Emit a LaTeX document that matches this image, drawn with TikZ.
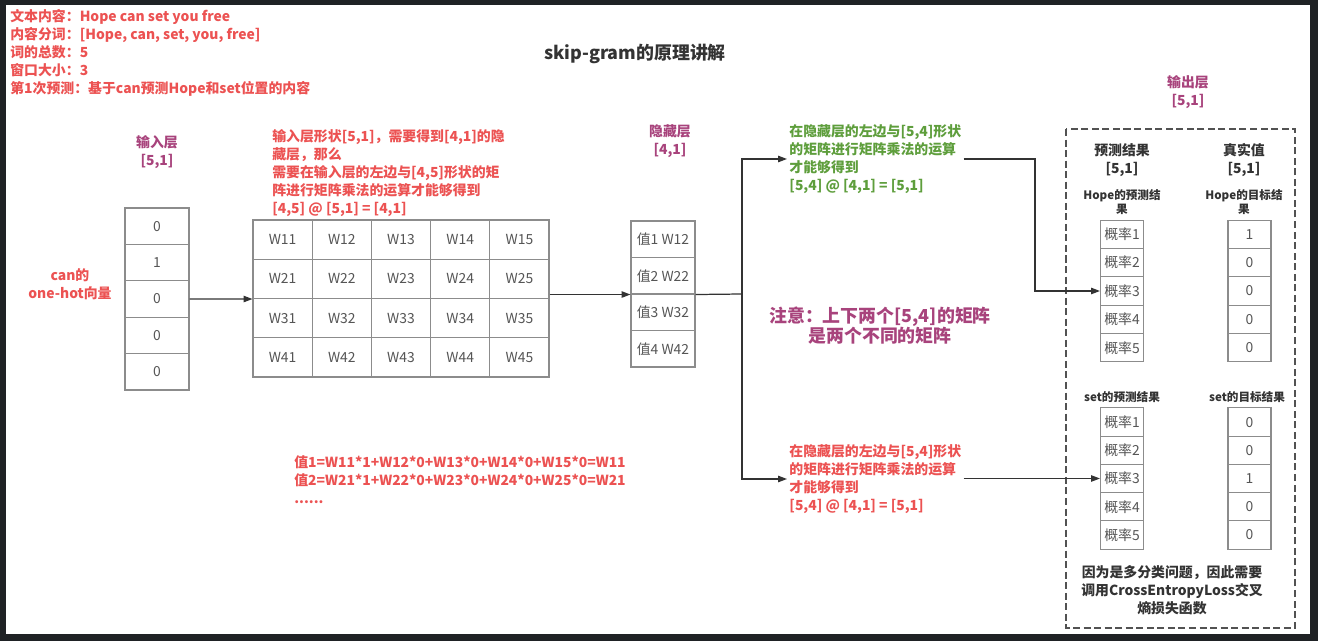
\documentclass[tikz,border=0pt]{standalone}
\usepackage{fontspec}
\setmainfont{Noto Sans CJK SC}
\usetikzlibrary{arrows.meta}

\definecolor{redtxt}{HTML}{EC5252}
\definecolor{purtxt}{HTML}{A8437C}
\definecolor{grntxt}{HTML}{5E9E3C}
\definecolor{darktxt}{HTML}{333333}
\definecolor{cellline}{HTML}{8C8C8C}
\definecolor{celltxt}{HTML}{555555}
\definecolor{framebg}{HTML}{1F2225}

\newcommand{\txtA}{\fontsize{7.9pt}{10.2pt}\selectfont}
\newcommand{\txtS}{\fontsize{6.6pt}{8pt}\selectfont}
\newcommand{\txtB}{\fontsize{10.2pt}{11.4pt}\selectfont}

\tikzset{
  cell/.style={draw=cellline, line width=0.6pt, inner sep=0pt, text=celltxt, font=\txtA},
  incell/.style={cell, minimum width=1.28cm, minimum height=0.728cm},
  wcell/.style={cell, minimum width=1.184cm, minimum height=0.785cm},
  hcell/.style={cell, minimum width=1.28cm, minimum height=0.73cm},
  pcell/.style={cell, minimum width=0.86cm, minimum height=0.566cm},
  rednote/.style={text=redtxt, font=\txtA\bfseries, align=left, inner sep=1.2pt},
  grnnote/.style={text=grntxt, font=\txtA\bfseries, align=left, inner sep=1.2pt},
  layer/.style={text=purtxt, font=\txtA\bfseries, align=center, inner sep=0pt},
  head/.style={text=darktxt, font=\txtA\bfseries, align=center, inner sep=0pt},
  small/.style={text=darktxt, font=\txtS\bfseries, align=center, inner sep=0pt},
  arr/.style={-{Triangle[length=5pt,width=3.6pt]}, draw=darktxt, line width=0.7pt},
  link/.style={draw=darktxt, line width=0.7pt}
}

\begin{document}
\begin{tikzpicture}[x=0.02cm, y=-0.02cm]
  % fundo
  \useasboundingbox (0,0) rectangle (1318,641);
  \fill[framebg] (0,0) rectangle (1318,641);
  \fill[white] (6,5) rectangle (1310,634);

  % textos do topo
  \node[rednote, anchor=west, inner sep=0pt] (info) at (10,53) {文本内容：Hope can set you free\\
    内容分词：[Hope, can, set, you, free]\\
    词的总数：5\\
    窗口大小：3\\
    第1次预测：基于can预测Hope和set位置的内容};
  \node[text=darktxt, font=\fontsize{10.2pt}{12pt}\selectfont\bfseries] (title) at (635,54) {skip-gram的原理讲解};

  % camada de entrada
  \node[layer] (inlbl) at (157,152) {输入层\\{[5,1]}};
  \node[rednote, align=center] (onehot) at (70,284) {can的\\one-hot向量};
  \foreach \v [count=\i] in {0,1,0,0,0}
    \node[incell] (in-\i) at (157,{208+36.4*(\i-0.5)}) {\v};

  % matriz de pesos [4,5]
  \node[rednote, anchor=west, inner sep=0pt] (wnote) at (272,173) {输入层形状[5,1]，需要得到[4,1]的隐\\
    藏层，那么\\
    需要在输入层的左边与[4,5]形状的矩\\
    阵进行矩阵乘法的运算才能够得到\\
    {[4,5] @ [5,1] = [4,1]}};
  \foreach \i in {1,...,4}
    \foreach \j in {1,...,5}
      \node[wcell] (m-\i-\j) at ({253+59.2*(\j-0.5)},{220+39.25*(\i-0.5)}) {W\i\j};
  \draw[arr] (in-3.east) -- (m-2-1.south west);

  \node[rednote, anchor=west, inner sep=0pt] (calc) at (294,480) {值1=W11*1+W12*0+W13*0+W14*0+W15*0=W11\\
    值2=W21*1+W22*0+W23*0+W24*0+W25*0=W21\\
    ......};

  % camada oculta
  \node[layer] (hlbl) at (670,141) {隐藏层\\{[4,1]}};
  \foreach \i in {1,...,4}
    \node[hcell] (h-\i) at (663,{221+36.5*(\i-0.5)}) {值\i\ W\i2};
  \draw[arr] (m-2-5.south east |- h-2.south west) -- (h-2.south west);

  % ramos para as duas saidas
  \coordinate (split) at (742,294);
  \coordinate (turn) at (1035,159);
  \draw[link] (h-2.south east) -- (split);
  \node[grnnote, anchor=west] (gtext) at (787,159) {在隐藏层的左边与[5,4]形状\\
    的矩阵进行矩阵乘法的运算\\
    才能够得到\\
    {[5,4] @ [4,1] = [5,1]}};
  \node[rednote, anchor=west] (rtext) at (787,479) {在隐藏层的左边与[5,4]形状\\
    的矩阵进行矩阵乘法的运算\\
    才能够得到\\
    {[5,4] @ [4,1] = [5,1]}};
  \draw[arr] (split) |- (gtext.west);
  \draw[arr] (split) |- (rtext.west);
  \node[text=purtxt, font=\txtB\bfseries, align=center] (warn) at (880,326) {注意：上下两个[5,4]的矩阵\\是两个不同的矩阵};

  % camada de saida
  \node[layer] (outlbl) at (1188,92) {输出层\\{[5,1]}};
  \draw[draw=darktxt!85, line width=0.7pt, dash pattern=on 4pt off 2pt] (1066,129) rectangle (1295,628);
  \node[head] (predlbl) at (1122,160) {预测结果\\{[5,1]}};
  \node[head] (truelbl) at (1244,160) {真实值\\{[5,1]}};

  \node[small] (hplbl) at (1122,202) {Hope的预测结\\果};
  \node[small] (htlbl) at (1244,202) {Hope的目标结\\果};
  \foreach \i in {1,...,5}
    \node[pcell] (hp-\i) at (1122,{220+28.4*(\i-0.5)}) {概率\i};
  \foreach \v [count=\i] in {1,0,0,0,0}
    \node[pcell] (ht-\i) at (1249.5,{220+28.4*(\i-0.5)}) {\v};

  \node[small] (splbl) at (1122,397) {set的预测结果};
  \node[small] (stlbl) at (1247,397) {set的目标结果};
  \foreach \i in {1,...,5}
    \node[pcell] (sp-\i) at (1122,{408+28.2*(\i-0.5)}) {概率\i};
  \foreach \v [count=\i] in {0,0,1,0,0}
    \node[pcell] (st-\i) at (1249.5,{408+28.2*(\i-0.5)}) {\v};

  \draw[arr] (gtext.east) -- (turn) |- (hp-3.west);
  \draw[arr] (sp-3.west -| rtext.east) -- (sp-3.west);

  \node[head] (loss) at (1172,590) {因为是多分类问题，因此需要\\调用CrossEntropyLoss交叉\\熵损失函数};
\end{tikzpicture}
\end{document}
